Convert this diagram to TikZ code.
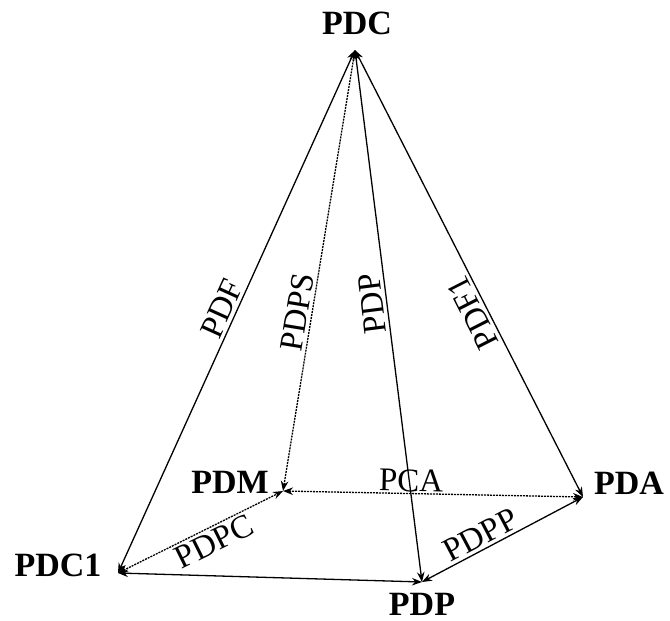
\documentclass[tikz,border=0pt]{standalone}
\usepackage{fontspec}
\setmainfont{Liberation Serif}
\usetikzlibrary{arrows.meta}
\begin{document}
\begin{tikzpicture}[x=1pt,y=-1pt,
  vlabel/.style={font=\fontsize{34}{40}\selectfont\bfseries, inner sep=0pt},
  elabel/.style={font=\fontsize{33}{38}\selectfont, inner sep=3pt, sloped},
  link/.style={line width=1.3pt, {Stealth[length=10pt,width=7.5pt]}-{Stealth[length=10pt,width=7.5pt]}},
  hidden/.style={link, dash pattern=on 2pt off 1pt}]
\useasboundingbox (0,0) rectangle (670,621);
% corners
\coordinate (A) at (355,50);
\coordinate (C1) at (118,573);
\coordinate (M) at (283,491);
\coordinate (P) at (422,582);
\coordinate (D) at (583,497);
% vertex labels
\node[vlabel] (lPDC) at (357,23) {PDC};
\node[vlabel] (lPDC1) at (58,565) {PDC1};
\node[vlabel] (lPDM) at (230,482) {PDM};
\node[vlabel] (lPDA) at (629,483) {PDA};
\node[vlabel] (lPDP) at (422,604) {PDP};
% edges
\draw[link] (C1) -- node[elabel, pos=0.494, above] (ePDF) {PDF} (A);
\draw[hidden] (M) -- node[elabel, pos=0.40, above] (ePDPS) {PDPS} (A);
\draw[link] (P) -- node[elabel, allow upside down, pos=0.526, above] (ePDP) {PDP} (A);
\draw[link] (D) -- node[elabel, allow upside down, pos=0.427, above] (ePDF1) {PDF1} (A);
\draw[hidden] (M) -- node[elabel, pos=0.426, above, inner sep=1pt] (ePCA) {PCA} (D);
\draw[link] (P) -- node[elabel, pos=0.405, above] (ePDPP) {PDPP} (D);
\draw[hidden] (C1) -- node[elabel, pos=0.543, below, inner sep=3pt] (ePDPC) {PDPC} (M);
\draw[link] (C1) -- (P);
\end{tikzpicture}
\end{document}
